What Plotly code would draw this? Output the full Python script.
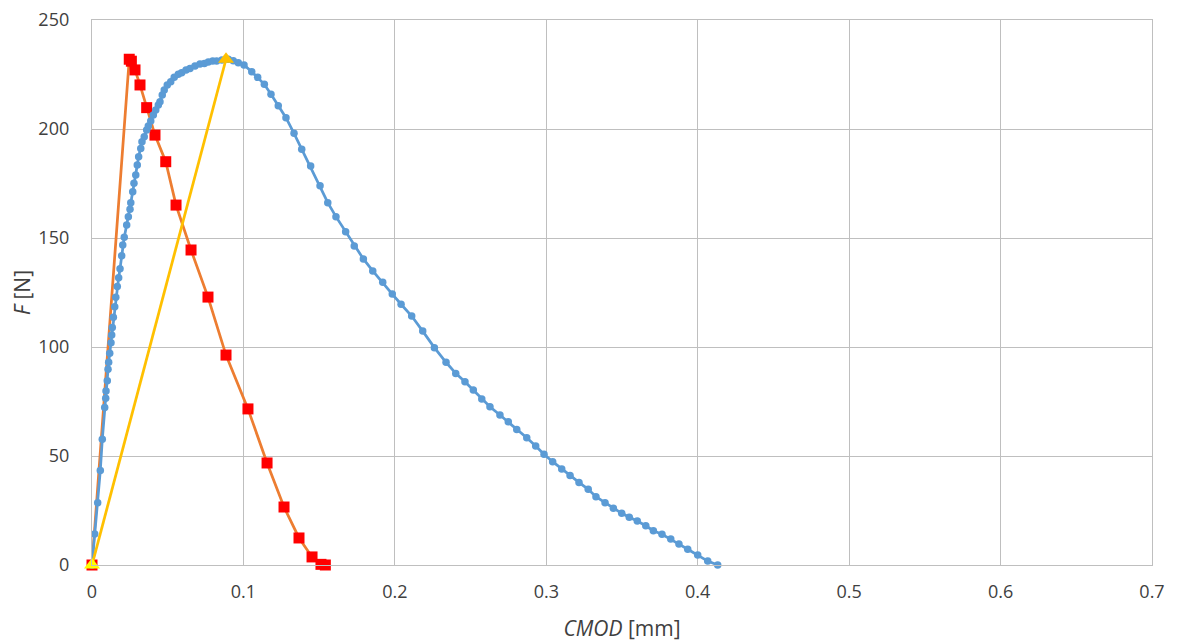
import plotly.graph_objects as go

# Blue measured curve
cmod_meas = [0.0, 0.00178, 0.00376, 0.00548, 0.0068, 0.00839, 0.00905, 0.00925, 0.0101, 0.01057,
             0.0110, 0.0117, 0.01255, 0.0130, 0.0134, 0.0141, 0.0150, 0.0157, 0.0167, 0.0176,
             0.0185, 0.0196, 0.0203, 0.0213, 0.0229, 0.0240, 0.0251, 0.0256, 0.0269, 0.0277,
             0.0289, 0.0299, 0.0308, 0.0322, 0.0330, 0.0345, 0.0361, 0.0372, 0.0388, 0.0405,
             0.0421, 0.0438, 0.0449, 0.0464, 0.0477, 0.0497, 0.0520, 0.0543, 0.0570, 0.0592,
             0.0621, 0.0647, 0.0680, 0.0713, 0.0742, 0.0768, 0.0797, 0.0823, 0.0858, 0.0900,
             0.0933, 0.0966, 0.1004, 0.1055, 0.1094, 0.1138, 0.1182, 0.1230, 0.1281, 0.1334,
             0.1385, 0.1444, 0.1506, 0.1557, 0.1611, 0.1675, 0.1732, 0.1792, 0.1854, 0.1920,
             0.1983, 0.2041, 0.2111, 0.2184, 0.2261, 0.2338, 0.2402, 0.2463, 0.2518, 0.2574,
             0.2628, 0.2694, 0.2749, 0.2805, 0.2871, 0.2930, 0.2985, 0.3042, 0.3102, 0.3157,
             0.3216, 0.3277, 0.3328, 0.3388, 0.3443, 0.3498, 0.3548, 0.3601, 0.3657, 0.3707,
             0.3764, 0.3822, 0.3876, 0.3934, 0.4000, 0.4066, 0.4132]
force_meas = [0.0, 14.2, 28.6, 43.3, 57.7, 72.2, 76.5, 79.8, 84.5, 89.8,
              93.0, 97.1, 102.0, 105.5, 108.9, 113.6, 118.5, 122.8, 127.7, 131.8,
              135.9, 141.9, 146.8, 150.3, 156.0, 159.8, 163.2, 166.2, 171.2, 175.1,
              178.9, 183.5, 187.3, 191.1, 194.2, 196.5, 199.5, 201.4, 203.7, 206.4,
              208.7, 211.0, 212.5, 215.6, 217.9, 220.2, 221.7, 223.7, 225.1, 225.8,
              227.1, 227.8, 228.9, 229.8, 230.1, 230.7, 231.2, 231.2, 231.7, 232.0,
              231.3, 230.4, 229.4, 226.3, 223.7, 220.5, 215.9, 210.7, 205.2, 198.0,
              190.7, 183.0, 174.0, 166.2, 159.8, 152.9, 146.3, 140.4, 134.9, 129.7,
              124.3, 119.6, 114.2, 107.3, 99.7, 93.0, 87.9, 84.1, 80.3, 76.1,
              72.6, 68.8, 65.7, 62.2, 58.4, 54.6, 50.8, 47.4, 44.0, 41.0,
              37.9, 34.7, 31.3, 28.6, 26.0, 23.7, 21.9, 20.2, 18.0, 15.7,
              14.1, 11.9, 9.6, 7.2, 4.6, 1.8, 0.0]

# Orange / red square curve
cmod_model = [0.0, 0.0246, 0.0260, 0.0284, 0.0317, 0.0361, 0.0416, 0.0487, 0.0555, 0.0654,
              0.0766, 0.0885, 0.1030, 0.1156, 0.1268, 0.1367, 0.1453, 0.1512, 0.1541]
force_model = [0.0, 232.0, 231.1, 227.1, 220.2, 209.8, 197.2, 185.0, 165.1, 144.5,
               122.9, 96.3, 71.6, 46.8, 26.6, 12.4, 3.7, 0.3, 0.0]

# Yellow secant line
cmod_secant = [0.0, 0.0885]
force_secant = [0.0, 232.0]

x_ticks = [0, 0.1, 0.2, 0.3, 0.4, 0.5, 0.6, 0.7]
x_tick_labels = ["0", "0.1", "0.2", "0.3", "0.4", "0.5", "0.6", "0.7"]
y_ticks = [0, 50, 100, 150, 200, 250]

fig = go.Figure()
fig.add_trace(go.Scatter(x=cmod_model, y=force_model, mode="lines+markers",
                         line=dict(color="#ED7D31", width=2.75),
                         marker=dict(symbol="square", size=11, color="#FF0000"),
                         showlegend=False))
fig.add_trace(go.Scatter(x=cmod_meas, y=force_meas, mode="lines+markers",
                         line=dict(color="#5B9BD5", width=2.75),
                         marker=dict(symbol="circle", size=7.5, color="#5B9BD5"),
                         showlegend=False))
fig.add_trace(go.Scatter(x=cmod_secant, y=force_secant, mode="lines+markers",
                         line=dict(color="#FFC000", width=2.75),
                         marker=dict(symbol="triangle-up", size=14, color=["#FFFF00", "#FFC000"]),
                         showlegend=False))

font = dict(family="Open Sans", size=18, color="#404040")
fig.update_layout(
    width=1181, height=644,
    margin=dict(l=84, r=37, t=12, b=87),
    paper_bgcolor="white", plot_bgcolor="white",
    font=font,
    xaxis=dict(range=[0, 0.7], tickvals=x_ticks, ticktext=x_tick_labels, automargin=False,
               showgrid=True, gridcolor="#BFBFBF", gridwidth=1.3,
               zeroline=False, showline=True, linecolor="#BFBFBF", linewidth=1.3, mirror=True,
               ticks="", ticklen=0, ticklabelstandoff=10, ticklabeloverflow="allow",
               title=dict(text="<i>CMOD</i> [mm]", standoff=19, font=dict(size=21, color="#404040"))),
    yaxis=dict(range=[0, 250], tickvals=y_ticks, automargin=False,
               showgrid=True, gridcolor="#BFBFBF", gridwidth=1.3,
               zeroline=False, showline=True, linecolor="#BFBFBF", linewidth=1.3, mirror=True,
               ticks="", ticklen=0, ticklabelstandoff=18, ticklabeloverflow="allow",
               title=dict(text="<i>F</i> [N]", standoff=14, font=dict(size=21, color="#404040"))),
)
fig.update_traces(cliponaxis=False)
fig.write_html("out.html")
